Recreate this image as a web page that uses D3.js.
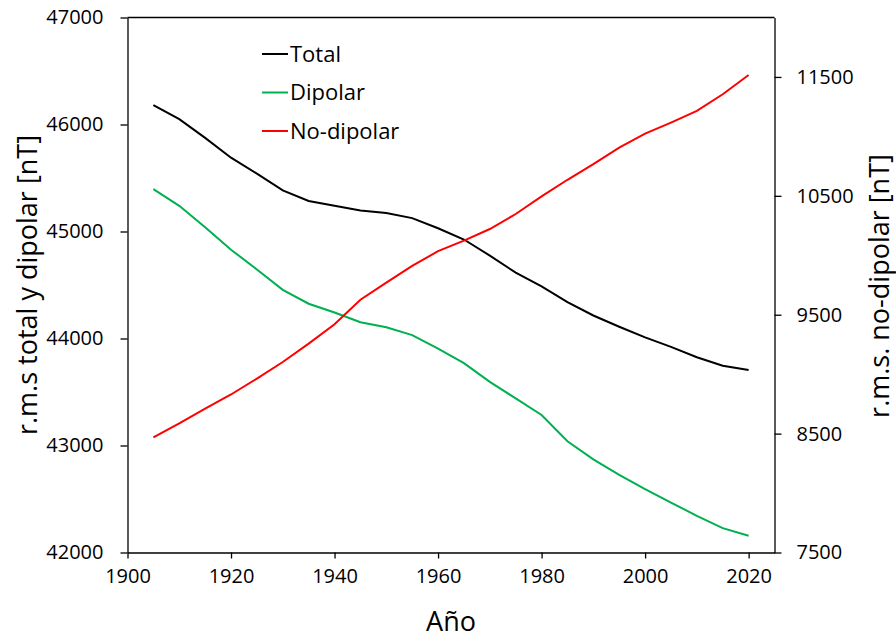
<!DOCTYPE html>
<html>
<head>
<meta charset="utf-8">
<script src="https://cdn.jsdelivr.net/npm/d3@7"></script>
<style>
 body { margin: 0; background: #fff; }
 svg text { font-family: "Open Sans", "Noto Sans", sans-serif; fill: #000; }
</style>
</head>
<body>
<svg id="chart" width="896" height="639"></svg>
<script>
// campo geomagnético r.m.s. por año
const years = [1905, 1910, 1915, 1920, 1925, 1930, 1935, 1940, 1945, 1950, 1955, 1960,
 1965, 1970, 1975, 1980, 1985, 1990, 1995, 2000, 2005, 2010, 2015, 2020];
const total = [46180, 46050, 45875, 45690, 45540, 45385, 45285, 45240, 45196, 45172, 45125, 45030,
 44925, 44775, 44615, 44488, 44340, 44215, 44110, 44010, 43922, 43825, 43745, 43705];
const dipolar = [45396, 45240, 45040, 44830, 44645, 44455, 44325, 44243, 44152, 44105, 44032, 43905,
 43770, 43595, 43440, 43285, 43040, 42870, 42725, 42592, 42467, 42343, 42228, 42156];
const noDipolar = [8468, 8586, 8711, 8829, 8963, 9102, 9257, 9420, 9626, 9770, 9910, 10035,
 10123, 10221, 10347, 10495, 10635, 10767, 10906, 11023, 11116, 11214, 11354, 11516];

const xTicks = [1900, 1920, 1940, 1960, 1980, 2000, 2020];
const leftTicks = [42000, 43000, 44000, 45000, 46000, 47000];
const rightTicks = [7500, 8500, 9500, 10500, 11500];

const svg = d3.select("#chart");
const plotL = 127.5, plotR = 774.5, plotT = 17.5, plotB = 552.5;

const x = d3.scaleLinear().domain([1900, 2025]).range([plotL, plotR]);
const yL = d3.scaleLinear().domain([42000, 47000]).range([plotB, plotT]);
const yR = d3.scaleLinear().domain([7500, 12000]).range([plotB, plotT]);

// ejes
const styleAxis = g => {
 g.select(".domain").attr("stroke", "#000").attr("stroke-width", 1.3);
 g.selectAll(".tick line").attr("stroke", "#000").attr("stroke-width", 1.3);
 g.selectAll(".tick text").style("font-size", "20px");
};

svg.append("g")
 .attr("transform", `translate(0,${plotB})`)
 .call(d3.axisBottom(x).tickValues(xTicks).tickFormat(d3.format("d")).tickSize(6).tickSizeOuter(0).tickPadding(10))
 .call(styleAxis);

svg.append("g")
 .attr("transform", `translate(${plotL},0)`)
 .call(d3.axisLeft(yL).tickValues(leftTicks).tickFormat(d3.format("d")).tickSize(7).tickSizeOuter(0).tickPadding(17))
 .call(styleAxis);

svg.append("g")
 .attr("transform", `translate(${plotR},0)`)
 .call(d3.axisRight(yR).tickValues(rightTicks).tickFormat(d3.format("d")).tickSize(7).tickSizeOuter(0).tickPadding(15))
 .call(styleAxis);

// borde superior
svg.append("line")
 .attr("x1", plotL).attr("x2", plotR).attr("y1", plotT).attr("y2", plotT)
 .attr("stroke", "#000").attr("stroke-width", 1.3);

// series
const series = [
 { name: "Total", values: total, scale: yL, color: "#000000" },
 { name: "Dipolar", values: dipolar, scale: yL, color: "#00b050" },
 { name: "No-dipolar", values: noDipolar, scale: yR, color: "#ff0000" }
];

series.forEach(s => {
 const line = d3.line()
 .x((d, i) => x(years[i]))
 .y(d => s.scale(d));
 svg.append("path")
 .datum(s.values)
 .attr("fill", "none")
 .attr("stroke", s.color)
 .attr("stroke-width", 2)
 .attr("d", line);
});

// leyenda
const legend = svg.append("g").attr("transform", "translate(262,54)");
series.forEach((s, i) => {
 const g = legend.append("g").attr("transform", `translate(0,${i * 38.5})`);
 g.append("line").attr("x1", 0).attr("x2", 26).attr("stroke", s.color).attr("stroke-width", 2);
 g.append("text").attr("x", 28).attr("dy", "0.35em").style("font-size", "22px").text(s.name);
});

// títulos
svg.append("text")
 .attr("x", (plotL + plotR) / 2).attr("y", 631)
 .attr("text-anchor", "middle").style("font-size", "27px")
 .text("Año");

svg.append("text")
 .attr("transform", `translate(37,285) rotate(-90)`)
 .attr("text-anchor", "middle").style("font-size", "27px")
 .text("r.m.s total y dipolar [nT]");

svg.append("text")
 .attr("transform", `translate(889,286) rotate(-90)`)
 .attr("text-anchor", "middle").style("font-size", "27px")
 .text("r.m.s. no-dipolar [nT]");
</script>
</body>
</html>
